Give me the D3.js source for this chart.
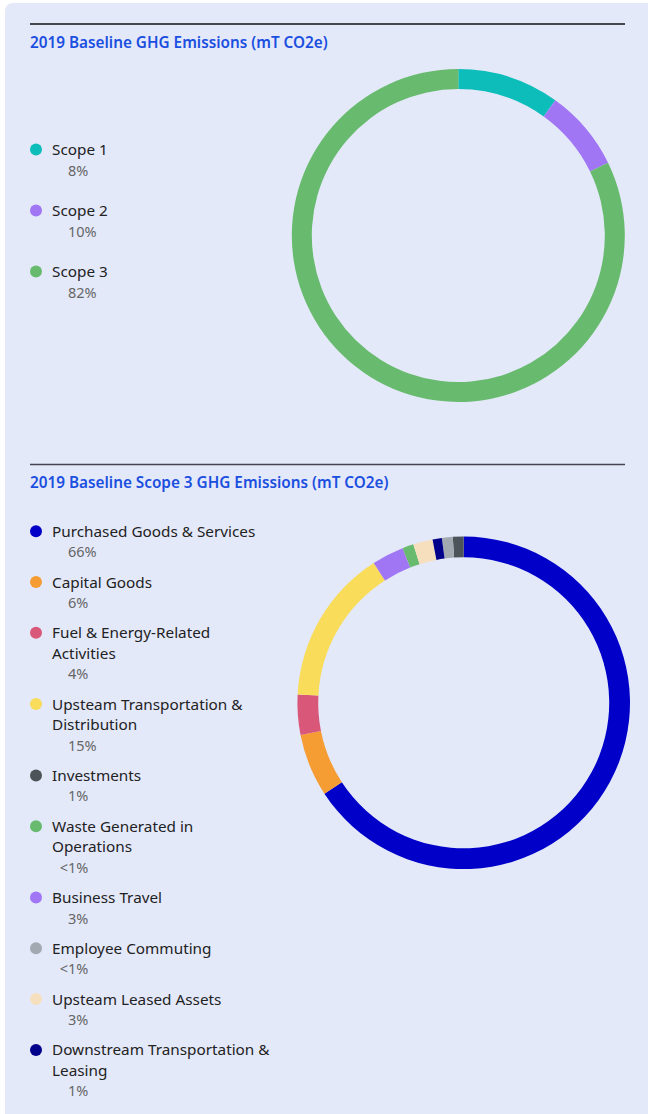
<!DOCTYPE html>
<html>
<head>
<meta charset="utf-8">
<script src="https://cdn.jsdelivr.net/npm/d3@7"></script>
<style>
  html, body { margin: 0; padding: 0; background: #fff; }
  svg { display: block; font-family: "Noto Sans", sans-serif; }
</style>
</head>
<body>
<svg id="chart" width="648" height="1114"></svg>
<script>
// --- chart 1: scopes
const scopeNames = ["Scope 1", "Scope 2", "Scope 3"];
const scopePct = ["8%", "10%", "82%"];
const scopeShare = [9.9, 7.9, 82.2];   // arc sizes as drawn on the ring
const scopeColors = ["#0dbdb9", "#a076f4", "#68bb6e"];

// --- chart 2: scope 3 categories (legend order)
const s3Names = [
  "Purchased Goods & Services",
  "Capital Goods",
  "Fuel & Energy-Related Activities",
  "Upsteam Transportation & Distribution",
  "Investments",
  "Waste Generated in Operations",
  "Business Travel",
  "Employee Commuting",
  "Upsteam Leased Assets",
  "Downstream Transportation & Leasing"
];
const s3Pct = ["66%", "6%", "4%", "15%", "1%", "<1%", "3%", "<1%", "3%", "1%"];
const s3Share = [65.8, 6.1, 3.9, 15.1, 1.05, 1.1, 3.1, 1.05, 1.9, 0.9];
const s3Colors = ["#0000c8", "#f59c33", "#d9587a", "#f8dc5a", "#4d5459",
                  "#68bb6e", "#a076f4", "#a3a9b1", "#f6dfbd", "#00008b"];
// clockwise order of the slices on the ring
const s3ArcOrder = [
  "Purchased Goods & Services", "Capital Goods", "Fuel & Energy-Related Activities",
  "Upsteam Transportation & Distribution", "Business Travel", "Waste Generated in Operations",
  "Upsteam Leased Assets", "Downstream Transportation & Leasing", "Employee Commuting", "Investments"
];

const svg = d3.select("#chart");

svg.append("rect")
  .attr("x", 5).attr("y", 3)
  .attr("width", 680).attr("height", 1140)
  .attr("rx", 8)
  .attr("fill", "#e4e9fa");

function header(y, title, lineColor) {
  svg.append("line")
    .attr("x1", 30).attr("x2", 625)
    .attr("y1", y).attr("y2", y)
    .attr("stroke", lineColor).attr("stroke-width", 1.6);
  svg.append("text")
    .attr("x", 30).attr("y", y + 23.5)
    .attr("fill", "#1a4fe0")
    .attr("font-size", 15.3)
    .attr("font-weight", 600)
    .text(title);
}

function wrap(textSel, width) {
  textSel.each(function () {
    const text = d3.select(this);
    const words = text.text().split(/\s+/);
    const x = text.attr("x");
    text.text(null);
    let line = [];
    let tspan = text.append("tspan").attr("x", x).attr("dy", 0);
    let n = 0;
    words.forEach(w => {
      line.push(w);
      tspan.text(line.join(" "));
      if (tspan.node().getComputedTextLength() > width && line.length > 1) {
        line.pop();
        tspan.text(line.join(" "));
        line = [w];
        n++;
        tspan = text.append("tspan").attr("x", x).attr("dy", 20.5).text(w);
      }
    });
    text.attr("data-lines", n + 1);
  });
}

function legend(items, startY, gap) {
  const g = svg.append("g");
  let y = startY;
  items.forEach(d => {
    const row = g.append("g");
    row.append("circle")
      .attr("cx", 36).attr("cy", y - 5.5).attr("r", 6)
      .attr("fill", d.color);
    const label = row.append("text")
      .attr("x", 52).attr("y", y)
      .attr("font-size", 15.3)
      .attr("fill", "#222")
      .text(d.name)
      .call(wrap, 220);
    const lines = +label.attr("data-lines");
    const py = y + lines * 20.5;
    const pct = row.append("text")
      .attr("x", 68).attr("y", py)
      .attr("font-size", 14.5)
      .attr("fill", "#666")
      .text(d.pct);
    if (d.pct.startsWith("<")) {
      // keep the digits aligned, let the "<" hang to the left
      const tmp = row.append("text").attr("font-size", 14.5).text("<");
      const w = tmp.node().getComputedTextLength();
      tmp.remove();
      pct.attr("x", 68 - w);
    }
    y = py + gap;
  });
}

function donut(cx, cy, rIn, rOut, items, order) {
  const pie = d3.pie()
    .value(d => d.share)
    .sort(order ? (a, b) => order.indexOf(a.name) - order.indexOf(b.name) : null);
  const arc = d3.arc().innerRadius(rIn).outerRadius(rOut);
  svg.append("g")
    .attr("transform", `translate(${cx},${cy})`)
    .selectAll("path")
    .data(pie(items))
    .join("path")
    .attr("d", arc)
    .attr("fill", d => d.data.color);
}

// section 1
const scopeItems = scopeNames.map((name, i) => ({
  name, pct: scopePct[i], share: scopeShare[i], color: scopeColors[i]
}));
header(24, "2019 Baseline GHG Emissions (mT CO2e)", "#111");
legend(scopeItems, 155, 40.5);
donut(458.3, 235.5, 146.5, 166.5, scopeItems, null);

// section 2
const s3Items = s3Names.map((name, i) => ({
  name, pct: s3Pct[i], share: s3Share[i], color: s3Colors[i]
}));
header(464.5, "2019 Baseline Scope 3 GHG Emissions (mT CO2e)", "#454552");
legend(s3Items, 536.7, 30.3);
donut(463.7, 702.8, 145.5, 166.3, s3Items, s3ArcOrder);
</script>
</body>
</html>
